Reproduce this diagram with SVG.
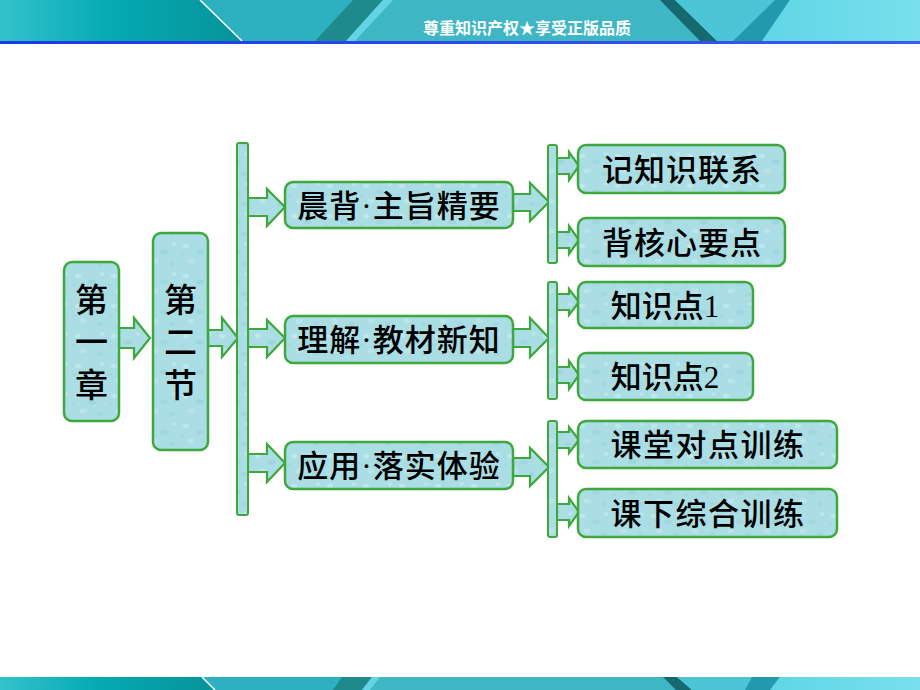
<svg xmlns="http://www.w3.org/2000/svg" width="920" height="690" viewBox="0 0 920 690">
<defs>
<linearGradient id="hdrL" x1="0" y1="0" x2="1" y2="0">
<stop offset="0" stop-color="#33c2cc"/><stop offset="0.45" stop-color="#05aab3"/><stop offset="1" stop-color="#069499"/>
</linearGradient>
<linearGradient id="hdrR" x1="0" y1="0" x2="1" y2="0">
<stop offset="0" stop-color="#5fd6e6"/><stop offset="1" stop-color="#78e0ec"/>
</linearGradient>
<linearGradient id="blueLine" x1="0" y1="0" x2="1" y2="0">
<stop offset="0" stop-color="#1a3ae8"/><stop offset="1" stop-color="#3a5af0"/>
</linearGradient>
<pattern id="drops" width="36" height="30" patternUnits="userSpaceOnUse">
<rect width="36" height="30" fill="#aadde4"/>
<ellipse cx="6" cy="6" rx="3" ry="2.2" fill="#cdeef2" opacity="0.6"/>
<ellipse cx="20" cy="12" rx="4" ry="2.6" fill="#94d0d8" opacity="0.45"/>
<ellipse cx="30" cy="4" rx="2.5" ry="1.8" fill="#c6ebf0" opacity="0.6"/>
<ellipse cx="11" cy="21" rx="3.5" ry="2.4" fill="#c4eaef" opacity="0.6"/>
<ellipse cx="28" cy="24" rx="3" ry="2" fill="#96d2da" opacity="0.45"/>
<ellipse cx="2" cy="15" rx="2" ry="1.5" fill="#98d2da" opacity="0.4"/>
</pattern>
<style>
.box{fill:url(#drops);stroke:#3ea83e;stroke-width:2.5}
.bar{fill:url(#drops);stroke:#3ea83e;stroke-width:2}
.arr{fill:url(#drops);stroke:#3ea83e;stroke-width:2.2;stroke-linejoin:miter}
.lbl{font-family:"Liberation Serif","Noto Sans CJK SC",serif;font-size:31px;font-weight:500;fill:#000;text-anchor:middle;dominant-baseline:central}
.vl{font-family:"Liberation Serif","Noto Sans CJK SC",serif;font-size:33px;font-weight:500;fill:#000;text-anchor:middle;dominant-baseline:central}
.hdr{font-family:"Noto Sans CJK SC",sans-serif;font-size:16px;font-weight:bold;fill:#fff;text-anchor:middle;dominant-baseline:central}
</style>
</defs>

<g id="header">
<rect x="0" y="0" width="920" height="41" fill="#3fb6c4"/>
<polygon points="0,0 200,0 242,41 0,41" fill="url(#hdrL)"/>
<polygon points="242,41 200,0 360,0 320,41" fill="#2db0bf"/>
<polygon points="353,0 383,0 346,41 315,41" fill="#1f8a8c"/>
<polygon points="383,0 393,0 355,41 346,41" fill="#62d4e4"/>
<polygon points="660,0 675,0 717,41 700,41" fill="#15696f"/>
<polygon points="675,0 790,0 762,41 717,41" fill="#4cc6d6"/>
<polygon points="775,0 790,0 762,41 733,41" fill="#2399ae"/>
<polygon points="790,0 920,0 920,41 762,41" fill="url(#hdrR)"/>
<line x1="200" y1="0" x2="242" y2="41" stroke="#ffffff" stroke-width="1.5"/>
<rect x="0" y="41" width="920" height="3" fill="url(#blueLine)"/>
<text class="hdr" x="527" y="27">尊重知识产权★享受正版品质</text>
</g>

<g id="footer">
<rect x="0" y="677" width="920" height="13" fill="#3fb6c4"/>
<polygon points="0,677 202,677 215,690 0,690" fill="url(#hdrL)"/>
<polygon points="215,690 202,677 346,677 338,690" fill="#2db0bf"/>
<polygon points="342,677 372,677 362,690 333,690" fill="#1f8a8c"/>
<polygon points="372,677 380,677 370,690 362,690" fill="#62d4e4"/>
<polygon points="663,677 677,677 692,690 676,690" fill="#15696f"/>
<polygon points="677,677 780,677 770,690 692,690" fill="#4cc6d6"/>
<polygon points="752,677 780,677 770,690 745,690" fill="#2399ae"/>
<polygon points="780,677 920,677 920,690 770,690" fill="url(#hdrR)"/>
<line x1="202" y1="677" x2="215" y2="690" stroke="#ffffff" stroke-width="1.5"/>
</g>

<g id="connectors">
<polygon class="arr" points="119,328 134,328 134,318 150,338 134,358 134,348 119,348"/>
<polygon class="arr" points="208,330 222,330 222,318 238,338 222,357 222,346 208,346"/>
<polygon class="arr" points="248,198 267,198 267,189 285,207 267,226 267,216 248,216"/>
<polygon class="arr" points="248,329 267,329 267,320 285,338 267,357 267,347 248,347"/>
<polygon class="arr" points="248,454 267,454 267,444 285,463 267,482 267,472 248,472"/>
<polygon class="arr" points="513,194 530,194 530,183 549,202 530,221 530,211 513,211"/>
<polygon class="arr" points="513,329 530,329 530,318 549,338 530,357 530,347 513,347"/>
<polygon class="arr" points="513,458 530,458 530,448 549,467 530,486 530,476 513,476"/>
<polygon class="arr" points="557,158 569,158 569,152 579,166 569,180 569,174 557,174"/>
<polygon class="arr" points="557,232 569,232 569,226 579,240 569,254 569,248 557,248"/>
<polygon class="arr" points="557,294 569,294 569,289 579,302 569,315 569,310 557,310"/>
<polygon class="arr" points="557,367 569,367 569,361 579,375 569,389 569,383 557,383"/>
<polygon class="arr" points="557,432 569,432 569,427 579,440 569,453 569,448 557,448"/>
<polygon class="arr" points="557,504 569,504 569,498 579,512 569,526 569,520 557,520"/>
<rect class="bar" x="237" y="143" width="11" height="372" rx="2"/>
<rect class="bar" x="548" y="145" width="9" height="118" rx="2"/>
<rect class="bar" x="548" y="282" width="9" height="117" rx="2"/>
<rect class="bar" x="548" y="421" width="9" height="116" rx="2"/>
</g>

<g id="n-chapter">
<rect class="box" x="64" y="262" width="55" height="159" rx="8"/>
<text class="vl" x="91.5" y="301">第</text>
<text class="vl" x="91.5" y="343">一</text>
<text class="vl" x="91.5" y="386">章</text>
</g>
<g id="n-section">
<rect class="box" x="153" y="233" width="55" height="217" rx="8"/>
<text class="vl" x="180.5" y="301">第</text>
<text class="vl" x="180.5" y="343">二</text>
<text class="vl" x="180.5" y="386">节</text>
</g>
<g id="n-row1">
<rect class="box" x="285" y="182" width="228" height="46" rx="8"/>
<text class="lbl" x="399" y="206" letter-spacing="1">晨背·主旨精要</text>
</g>
<g id="n-row2">
<rect class="box" x="285" y="316" width="228" height="47" rx="8"/>
<text class="lbl" x="399" y="340" letter-spacing="1">理解·教材新知</text>
</g>
<g id="n-row3">
<rect class="box" x="285" y="442" width="228" height="47" rx="8"/>
<text class="lbl" x="399" y="466" letter-spacing="1">应用·落实体验</text>
</g>
<g id="n-c1">
<rect class="box" x="578" y="145" width="207" height="48" rx="8"/>
<text class="lbl" x="682" y="170" letter-spacing="1">记知识联系</text>
</g>
<g id="n-c2">
<rect class="box" x="578" y="218" width="207" height="48" rx="8"/>
<text class="lbl" x="682" y="243" letter-spacing="1">背核心要点</text>
</g>
<g id="n-c3">
<rect class="box" x="578" y="282" width="175" height="46" rx="8"/>
<text class="lbl" x="665" y="306">知识点1</text>
</g>
<g id="n-c4">
<rect class="box" x="578" y="353" width="175" height="47" rx="8"/>
<text class="lbl" x="665" y="377">知识点2</text>
</g>
<g id="n-c5">
<rect class="box" x="578" y="421" width="259" height="47" rx="8"/>
<text class="lbl" x="708" y="445" letter-spacing="1.5">课堂对点训练</text>
</g>
<g id="n-c6">
<rect class="box" x="578" y="489" width="259" height="48" rx="8"/>
<text class="lbl" x="708" y="514" letter-spacing="1.5">课下综合训练</text>
</g>
</svg>
